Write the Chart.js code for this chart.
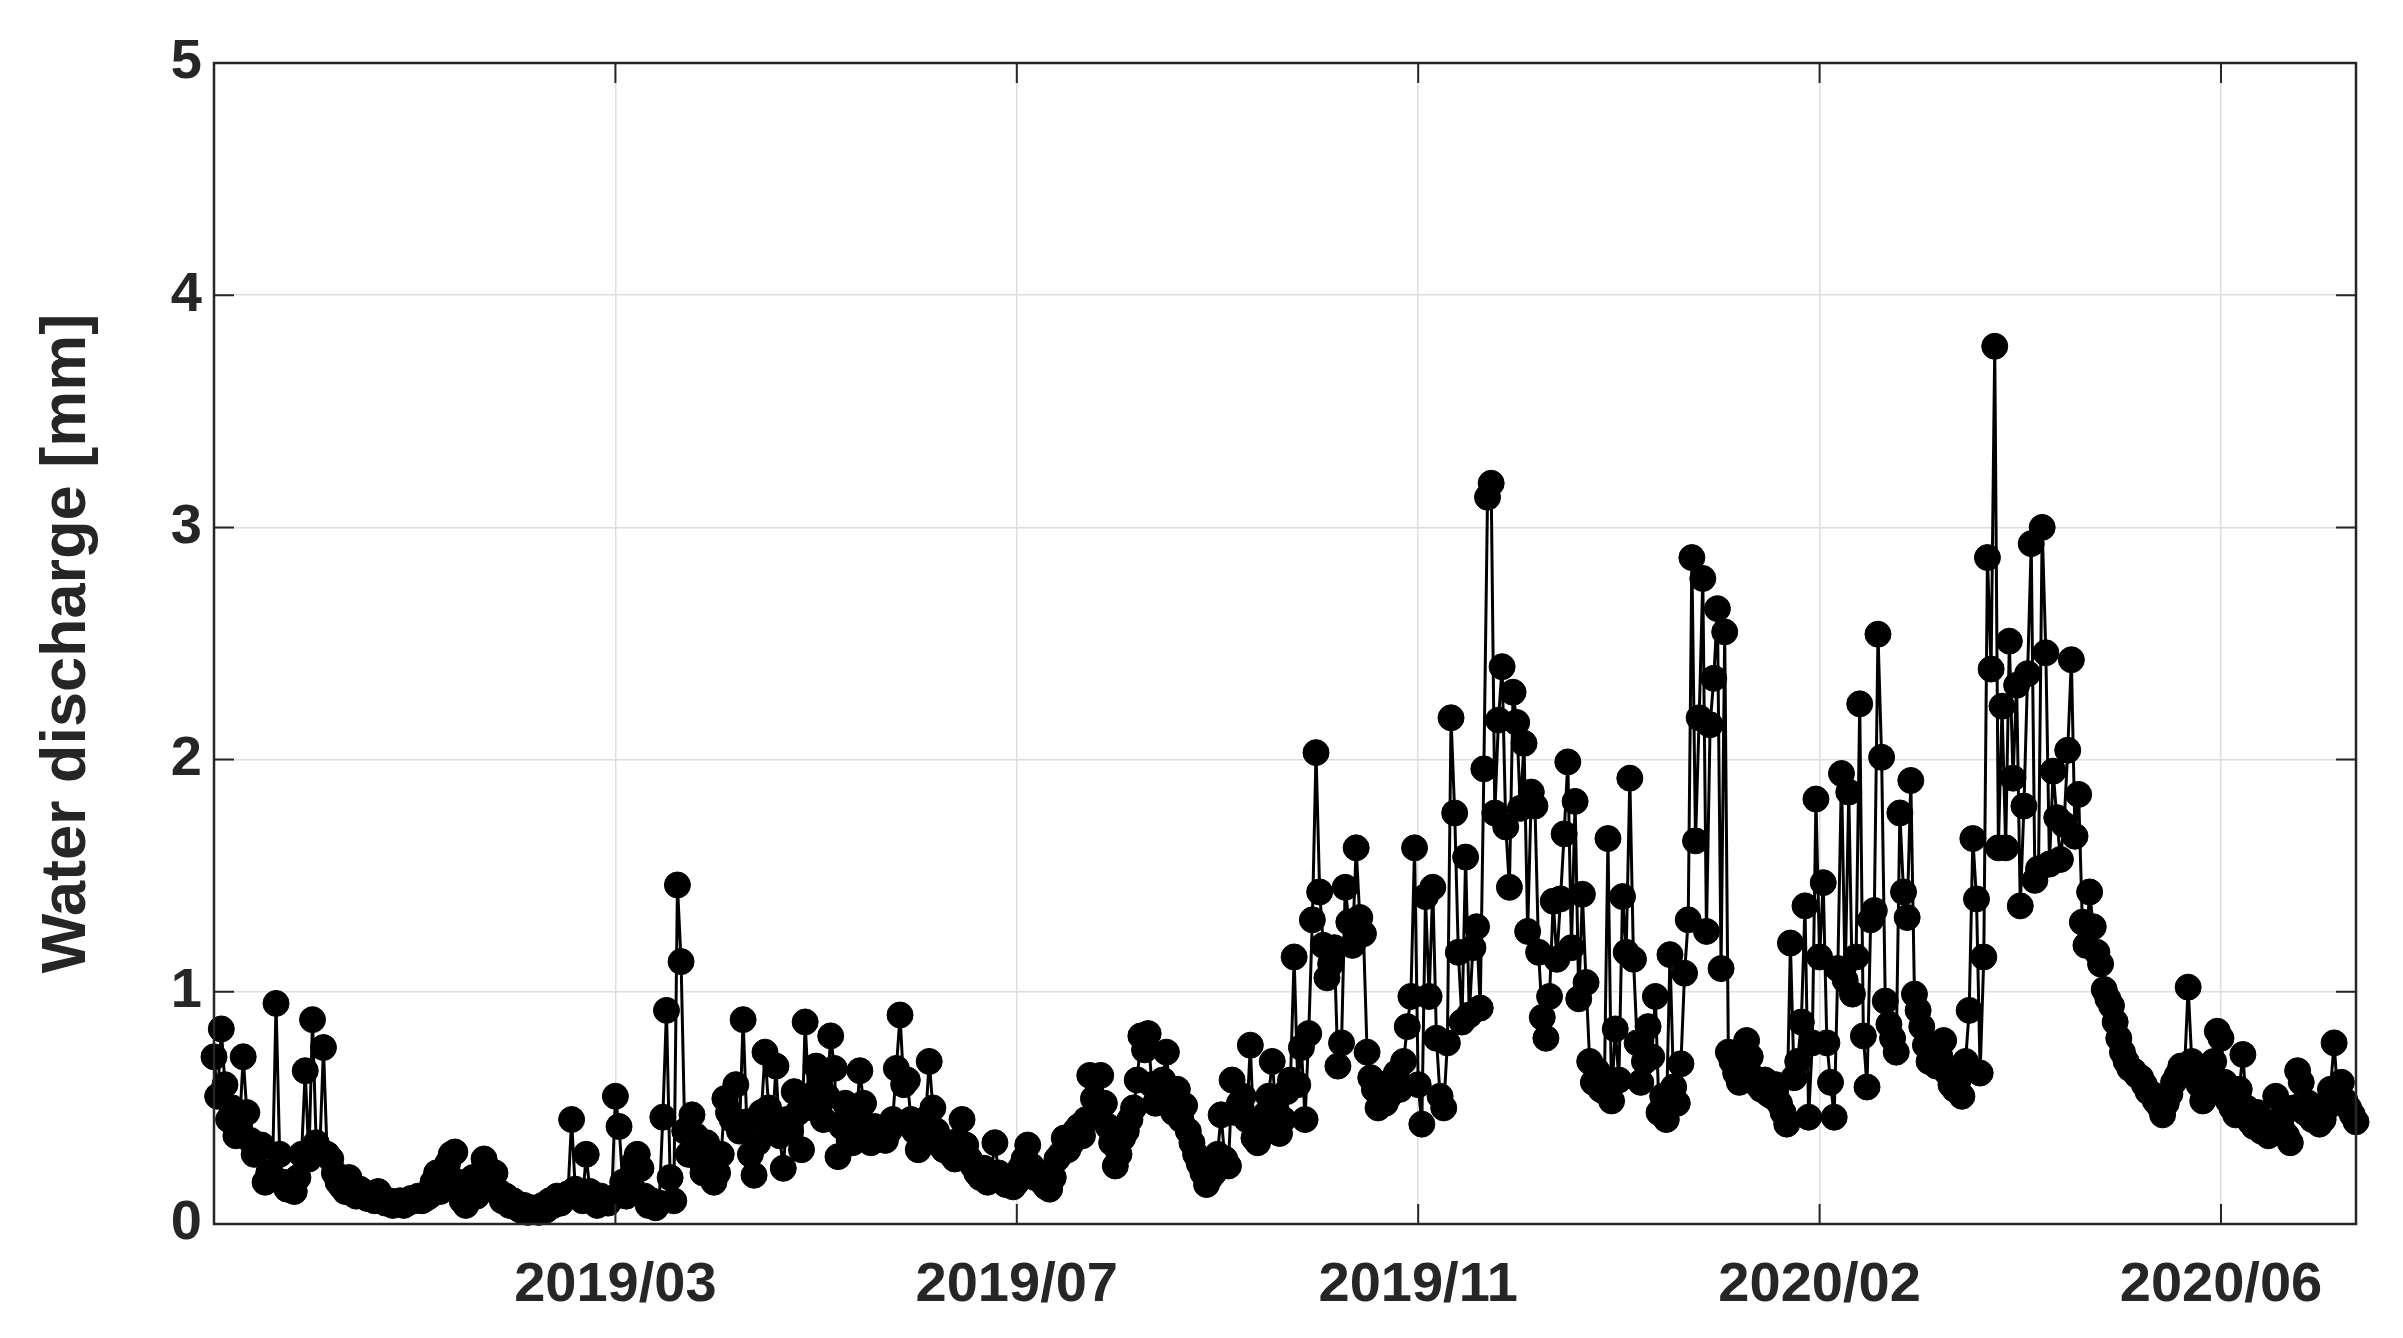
<!DOCTYPE html>
<html>
<head>
<meta charset="utf-8">
<title>Water discharge</title>
<script src="https://cdn.jsdelivr.net/npm/chart.js@4.4.1/dist/chart.umd.min.js"></script>
<style>
  html, body { margin: 0; padding: 0; background: #fff; }
  #wrap { width: 2403px; height: 1338px; }
</style>
</head>
<body>
<div id="wrap"><canvas id="dischargeChart" width="2403" height="1338"></canvas></div>
<script>
// daily discharge values, day 0 = first day of the record
const discharge = [
  0.72,0.55,0.84,0.60,0.45,0.50,0.38,0.42,0.72,0.48,
  0.36,0.30,0.32,0.34,0.18,0.22,0.20,0.95,0.30,0.18,
  0.15,0.17,0.14,0.20,0.30,0.66,0.28,0.88,0.35,0.32,
  0.76,0.30,0.28,0.22,0.18,0.16,0.14,0.20,0.13,0.12,
  0.15,0.12,0.11,0.13,0.10,0.14,0.11,0.09,0.10,0.08,
  0.09,0.10,0.08,0.09,0.11,0.10,0.12,0.10,0.11,0.12,
  0.18,0.22,0.14,0.20,0.26,0.30,0.31,0.18,0.10,0.08,
  0.12,0.20,0.12,0.20,0.28,0.24,0.18,0.22,0.14,0.10,
  0.12,0.08,0.10,0.07,0.06,0.08,0.05,0.07,0.06,0.05,
  0.08,0.06,0.10,0.08,0.12,0.09,0.11,0.13,0.45,0.15,
  0.12,0.10,0.30,0.14,0.10,0.08,0.12,0.10,0.09,0.11,
  0.55,0.42,0.18,0.12,0.20,0.26,0.30,0.24,0.12,0.08,
  0.10,0.07,0.09,0.46,0.92,0.20,0.10,1.46,1.13,0.40,
  0.30,0.47,0.38,0.28,0.22,0.35,0.26,0.18,0.22,0.30,
  0.54,0.48,0.45,0.60,0.40,0.88,0.44,0.30,0.21,0.35,
  0.48,0.74,0.50,0.40,0.68,0.38,0.24,0.45,0.40,0.57,
  0.48,0.32,0.87,0.55,0.50,0.68,0.60,0.45,0.55,0.81,
  0.67,0.29,0.42,0.52,0.48,0.35,0.45,0.66,0.52,0.38,
  0.35,0.42,0.38,0.41,0.36,0.40,0.45,0.67,0.90,0.60,
  0.62,0.45,0.40,0.32,0.38,0.45,0.70,0.50,0.40,0.34,
  0.32,0.35,0.30,0.28,0.36,0.45,0.34,0.28,0.25,0.22,
  0.20,0.24,0.18,0.22,0.35,0.22,0.19,0.17,0.20,0.16,
  0.18,0.24,0.28,0.34,0.25,0.20,0.22,0.18,0.16,0.15,
  0.20,0.28,0.30,0.37,0.32,0.35,0.40,0.42,0.38,0.45,
  0.64,0.54,0.48,0.64,0.52,0.42,0.35,0.25,0.30,0.37,
  0.40,0.45,0.50,0.62,0.81,0.75,0.82,0.60,0.52,0.55,
  0.62,0.74,0.55,0.48,0.58,0.45,0.51,0.40,0.35,0.30,
  0.26,0.22,0.17,0.20,0.22,0.30,0.47,0.28,0.25,0.62,
  0.48,0.52,0.55,0.45,0.77,0.37,0.35,0.42,0.47,0.55,
  0.70,0.50,0.39,0.45,0.57,0.62,1.15,0.60,0.76,0.45,
  0.82,1.31,2.03,1.43,1.20,1.06,1.12,1.19,0.68,0.78,
  1.45,1.30,1.20,1.62,1.32,1.25,0.74,0.63,0.58,0.50,
  0.60,0.52,0.55,0.62,0.65,0.58,0.70,0.85,0.98,1.62,
  0.60,0.43,1.41,0.98,1.45,0.80,0.55,0.50,0.78,2.18,
  1.77,1.17,0.87,1.58,0.90,1.19,1.28,0.93,1.96,3.13,
  3.19,1.77,2.17,2.40,1.71,1.45,2.29,2.16,1.79,2.07,
  1.26,1.86,1.80,1.17,0.89,0.80,0.98,1.39,1.14,1.40,
  1.68,1.99,1.19,1.82,0.97,1.42,1.04,0.70,0.61,0.66,
  0.58,0.57,1.66,0.53,0.84,0.62,1.41,1.17,1.92,1.14,
  0.78,0.61,0.70,0.85,0.72,0.98,0.48,0.55,0.45,1.16,
  0.59,0.52,0.69,1.08,1.31,2.87,1.65,2.18,2.78,1.26,
  2.15,2.35,2.65,1.10,2.55,0.74,0.70,0.65,0.61,0.68,
  0.79,0.72,0.63,0.60,0.58,0.62,0.56,0.55,0.60,0.52,
  0.48,0.43,1.21,0.63,0.70,0.87,1.37,0.46,0.78,1.83,
  1.15,1.47,0.78,0.61,0.46,1.10,1.94,1.05,1.86,0.99,
  1.15,2.24,0.81,0.59,1.31,1.35,2.54,2.01,0.96,0.86,
  0.80,0.74,1.77,1.43,1.32,1.91,0.99,0.92,0.85,0.77,
  0.70,0.74,0.68,0.72,0.79,0.65,0.60,0.58,0.62,0.55,
  0.70,0.92,1.66,1.40,0.65,1.15,2.87,2.39,3.78,1.62,
  2.23,1.62,2.51,1.92,2.32,1.37,1.80,2.37,2.93,1.48,
  1.53,3.00,2.46,1.55,1.95,1.75,1.57,1.72,2.04,2.43,
  1.67,1.85,1.30,1.20,1.43,1.28,1.17,1.12,1.01,0.97,
  0.94,0.87,0.80,0.74,0.70,0.67,0.66,0.64,0.63,0.60,
  0.57,0.56,0.53,0.51,0.47,0.52,0.56,0.61,0.64,0.68,
  0.66,1.02,0.70,0.63,0.60,0.53,0.58,0.62,0.70,0.83,
  0.80,0.61,0.53,0.50,0.47,0.58,0.73,0.50,0.44,0.42,
  0.48,0.40,0.44,0.38,0.42,0.55,0.45,0.40,0.38,0.35,
  0.50,0.66,0.61,0.48,0.52,0.45,0.47,0.43,0.45,0.50,
  0.58,0.78,0.55,0.61,0.53,0.50,0.47,0.44
];

// x ticks (day index) and their date labels
const tickDays = [110, 220, 330, 440, 550];
const tickLabels = ['2019/03', '2019/07', '2019/11', '2020/02', '2020/06'];

const yTicks = [0, 1, 2, 3, 4, 5];
const yTitle = 'Water discharge [mm]';

const axisColor = '#262626';
const fontFamily = '"Liberation Sans", Arial, Helvetica, sans-serif';

// box around the plot + inward tick marks (MATLAB style)
const boxPlugin = {
  id: 'axesBox',
  afterDatasetsDraw(chart) {
    const { ctx, chartArea: a, scales } = chart;
    const tl = 20;
    ctx.save();
    ctx.strokeStyle = axisColor;
    ctx.lineWidth = 2.5;
    ctx.strokeRect(a.left, a.top, a.right - a.left, a.bottom - a.top);
    ctx.lineWidth = 2;
    ctx.beginPath();
    tickDays.forEach(d => {
      const x = scales.x.getPixelForValue(d);
      ctx.moveTo(x, a.bottom); ctx.lineTo(x, a.bottom - tl);
      ctx.moveTo(x, a.top); ctx.lineTo(x, a.top + tl);
    });
    yTicks.forEach(v => {
      const y = scales.y.getPixelForValue(v);
      ctx.moveTo(a.left, y); ctx.lineTo(a.left + tl, y);
      ctx.moveTo(a.right, y); ctx.lineTo(a.right - tl, y);
    });
    ctx.stroke();
    ctx.restore();
  }
};

const ctx = document.getElementById('dischargeChart').getContext('2d');
new Chart(ctx, {
  type: 'line',
  data: {
    datasets: [{
      data: discharge.map((v, i) => ({ x: i, y: v })),
      borderColor: '#000',
      backgroundColor: '#000',
      borderWidth: 3,
      pointRadius: 13,
      pointBorderWidth: 1,
      pointBackgroundColor: '#000',
      pointBorderColor: '#000',
      tension: 0,
      clip: false
    }]
  },
  options: {
    responsive: false,
    animation: false,
    devicePixelRatio: 1,
    layout: { padding: { left: 0, right: 47, top: 63, bottom: 0 } },
    plugins: {
      legend: { display: false },
      tooltip: { enabled: false }
    },
    scales: {
      x: {
        type: 'linear',
        min: 0,
        max: discharge.length - 1,
        afterBuildTicks: scale => { scale.ticks = tickDays.map(v => ({ value: v })); },
        afterFit: scale => { scale.height = 114; },
        border: { display: false },
        grid: { color: '#dedede', lineWidth: 1.5, drawTicks: false },
        ticks: {
          autoSkip: false,
          maxRotation: 0,
          padding: 28,
          color: axisColor,
          font: { family: fontFamily, size: 56, weight: 'bold' },
          callback: v => tickLabels[tickDays.indexOf(v)]
        }
      },
      y: {
        min: 0,
        max: 5,
        afterBuildTicks: scale => { scale.ticks = yTicks.map(v => ({ value: v })); },
        afterFit: scale => { scale.width = 214; },
        border: { display: false },
        grid: { color: '#dedede', lineWidth: 1.5, drawTicks: false },
        ticks: {
          padding: 12,
          color: axisColor,
          font: { family: fontFamily, size: 56, weight: 'bold' }
        },
        title: {
          display: true,
          text: yTitle,
          color: axisColor,
          padding: { top: 30, bottom: 0 },
          font: { family: fontFamily, size: 63, weight: 'bold' }
        }
      }
    }
  },
  plugins: [boxPlugin]
});
</script>
</body>
</html>
